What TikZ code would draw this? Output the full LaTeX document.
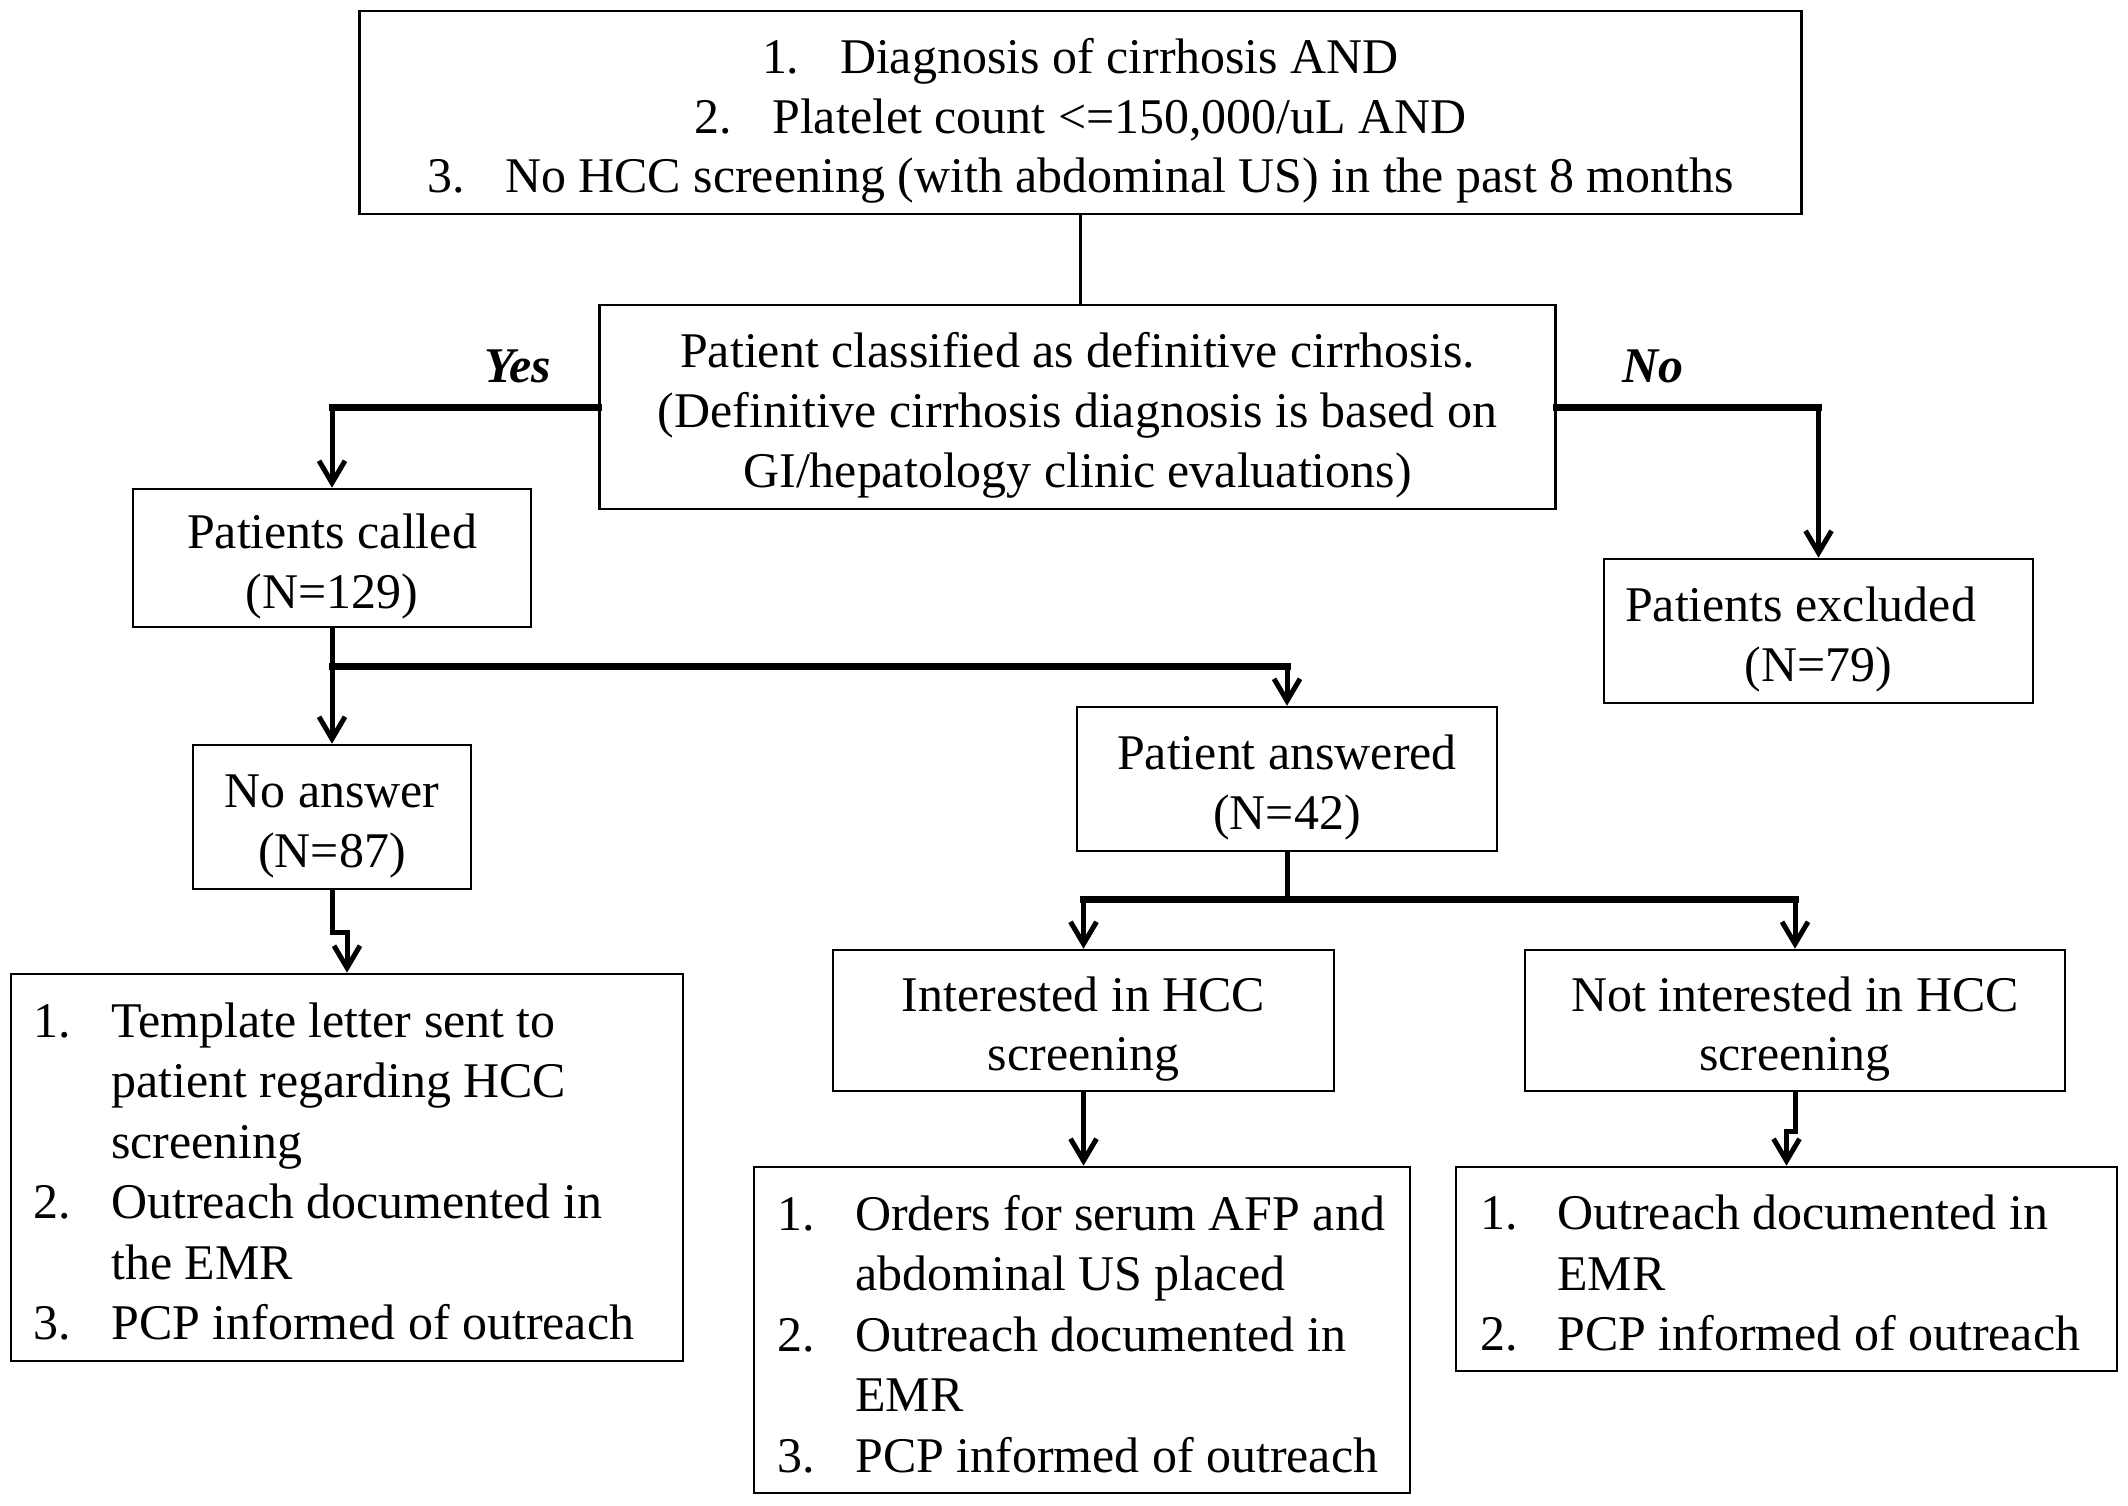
\documentclass[tikz,border=0pt]{standalone}
\usepackage{fontspec}
\setmainfont{Liberation Serif}
\usetikzlibrary{arrows.meta}
\newcommand\boxtext[1]{\begin{tabular}{@{}c@{}}\rule{0pt}{0.59cm}#1\end{tabular}}
\newcommand\numtab[2]{\begin{tabular}{@{}p{#1}@{}l@{}}#2\end{tabular}}
\begin{document}
\begin{tikzpicture}[x=0.01cm,y=-0.01cm,
  box/.style={draw, line width=0.025cm, inner sep=0pt, font=\fontsize{14.2}{17}\selectfont},
  lst/.style={inner sep=0pt, anchor=west, font=\fontsize{14.2}{17.2}\selectfont},
  conn/.style={line width=0.05cm},
  hconn/.style={line width=0.07cm, line cap=rect},
  thin/.style={line width=0.03cm},
  arr/.style={conn, -{Straight Barb[length=0.22cm,width=0.26cm]}},
  lbl/.style={font=\fontsize{14.2}{17}\selectfont\bfseries\itshape}
]
\useasboundingbox (0,0) rectangle (2128,1505);

% boxes
\node[box, minimum width=14.41cm, minimum height=2.03cm] (top) at (1080.5,112.5)
 {\boxtext{\makebox[0.78cm][l]{1.}Diagnosis of cirrhosis AND\\
  \makebox[0.78cm][l]{2.}Platelet count <=150,000/uL AND\\
  \makebox[0.78cm][l]{3.}No HCC screening (with abdominal US) in the past 8 months}};
\node[box, minimum width=9.55cm, minimum height=2.04cm] (q) at (1077.5,407)
 {\boxtext{Patient classified as definitive cirrhosis.\\(Definitive cirrhosis diagnosis is based on\\GI/hepatology clinic evaluations)}};
\node[box, minimum width=3.98cm, minimum height=1.38cm] (called) at (332,558) {\boxtext{Patients called\\(N=129)}};
\node[box, minimum width=4.29cm, minimum height=1.44cm] (excl) at (1818.5,631) {\boxtext{Patients excluded\hspace*{0.36cm}\\(N=79)}};
\node[box, minimum width=2.78cm, minimum height=1.44cm] (noans) at (332,817) {\boxtext{No answer\\(N=87)}};
\node[box, minimum width=4.20cm, minimum height=1.44cm] (ans) at (1287,779) {\boxtext{Patient answered\\(N=42)}};
\node[box, minimum width=5.01cm, minimum height=1.41cm] (int) at (1083.5,1020.5) {\boxtext{Interested in HCC\\screening}};
\node[box, minimum width=5.40cm, minimum height=1.41cm] (notint) at (1795,1020.5) {\boxtext{Not interested in HCC\\screening}};
\node[box, minimum width=6.72cm, minimum height=3.87cm] (tmpl) at (347,1167.5) {};
\node[box, minimum width=6.56cm, minimum height=3.26cm] (orders) at (1082,1330) {};
\node[box, minimum width=6.61cm, minimum height=2.04cm] (outr) at (1786.5,1269) {};

% list texts
\node[lst] (tmpltext) at ([xshift=0.23cm,yshift=-0.09cm]tmpl.west)
 {\numtab{0.78cm}{
 1. & Template letter sent to\\
    & patient regarding HCC\\
    & screening\\
 2. & Outreach documented in\\
    & the EMR\\
 3. & PCP informed of outreach}};
\node[lst] (orderstext) at ([xshift=0.24cm,yshift=-0.09cm]orders.west)
 {\numtab{0.78cm}{
 1. & Orders for serum AFP and\\
    & abdominal US placed\\
 2. & Outreach documented in\\
    & EMR\\
 3. & PCP informed of outreach}};
\node[lst] (outrtext) at ([xshift=0.25cm,yshift=-0.09cm]outr.west)
 {\numtab{0.77cm}{
 1. & Outreach documented in\\
    & EMR\\
 2. & PCP informed of outreach}};

% labels
\node[lbl] (yes) at (518,366) {Yes};
\node[lbl] (no) at (1653,366) {No};

% connectors
\draw[thin] (top.south) -- (top.south |- q.north);
\coordinate (cy) at (called.north |- q.west);
\coordinate (cn) at (excl.north |- q.east);
\draw[hconn] (q.west) -- (cy);
\draw[arr] (cy) -- (called.north);
\draw[hconn] (q.east) -- (cn);
\draw[arr] (cn) -- (excl.north);
\draw[arr] (called.south) -- (noans.north);
\coordinate (b1) at ([yshift=-0.38cm]called.south);
\coordinate (b1r) at (ans.north |- b1);
\draw[hconn] (b1) -- (b1r);
\draw[arr] (b1r) -- (ans.north);
\draw[arr] (noans.south) -- ++(0,42) -| (tmpl.north);
\coordinate (b2) at ([yshift=-0.47cm]ans.south);
\coordinate (b2l) at (int.north |- b2);
\coordinate (b2r) at (notint.north |- b2);
\draw[conn] (ans.south) -- (b2);
\draw[hconn] (b2l) -- (b2r);
\draw[arr] (b2l) -- (int.north);
\draw[arr] (b2r) -- (notint.north);
\draw[arr] (int.south) -- (int.south |- orders.north);
\draw[arr] (notint.south) -- ++(0,39) -| (outr.north);
\end{tikzpicture}
\end{document}
